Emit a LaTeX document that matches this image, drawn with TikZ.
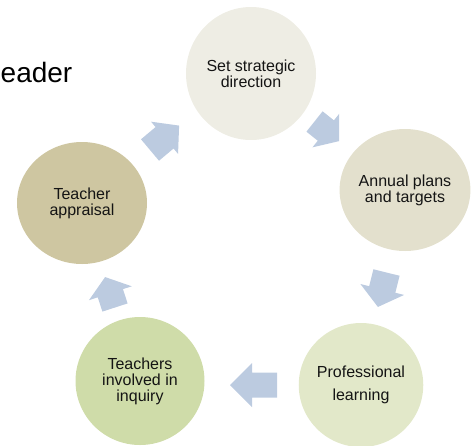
\documentclass[tikz,border=0pt]{standalone}
\usepackage{fontspec}
\setmainfont{Liberation Sans}
\usetikzlibrary{shapes.geometric}
\definecolor{cTop}{RGB}{238,237,228}
\definecolor{cRight}{RGB}{227,224,205}
\definecolor{cLeft}{RGB}{206,198,161}
\definecolor{cBL}{RGB}{207,220,169}
\definecolor{cBR}{RGB}{226,232,201}
\definecolor{cArrow}{RGB}{188,203,224}
\definecolor{cText}{RGB}{20,20,20}
\tikzset{
  stage/.style={ellipse, inner sep=0pt, text=cText, align=center,
    font=\fontsize{16}{16}\selectfont},
}
% #1 tail centre, #2 direction angle (image, y down), #3 length, #4 head length, #5 shaft width, #6 head width
\newcommand\blockarrow[6]{%
  \fill[cArrow, shift={#1}, rotate=-#2]
    (0,-#5/2) -- (#3-#4,-#5/2) -- (#3-#4,-#6/2) -- (#3,0) -- (#3-#4,#6/2)
    -- (#3-#4,#5/2) -- (0,#5/2) -- cycle;}
\begin{document}
\begin{tikzpicture}[x=1pt,y=-1pt]
\useasboundingbox (0,0) rectangle (474,445);
\node[anchor=base west, inner xsep=0pt, text=black, font=\fontsize{28}{30}\selectfont] (title) at (0.5,82) {eader};

\node[stage, fill=cTop, minimum width=130pt, minimum height=133pt] (s1) at (251,73.5) {Set strategic\\direction};
\node[stage, fill=cRight, minimum width=130pt, minimum height=122pt] (s2) at (405,190) {Annual plans\\and targets};
\node[stage, fill=cBR, minimum width=124pt, minimum height=124pt, font=\fontsize{16}{23}\selectfont] (s3) at (361,385) {Professional\\learning};
\node[stage, fill=cBL, minimum width=129pt, minimum height=128pt] (s4) at (140,381) {Teachers\\involved in\\inquiry};
\node[stage, fill=cLeft, minimum width=130pt, minimum height=122pt] (s5) at (82,203) {Teacher\\appraisal};

\blockarrow{(314.5,121.5)}{38.5}{31.5}{17}{26}{43}
\blockarrow{(386.5,272.5)}{104}{35.5}{18}{27}{45}
\blockarrow{(277,385)}{180}{47}{22}{25}{44}
\blockarrow{(115,307.5)}{-108}{32}{17}{26.5}{45}
\blockarrow{(150,150)}{-40}{38}{19}{28}{42}
\end{tikzpicture}
\end{document}
